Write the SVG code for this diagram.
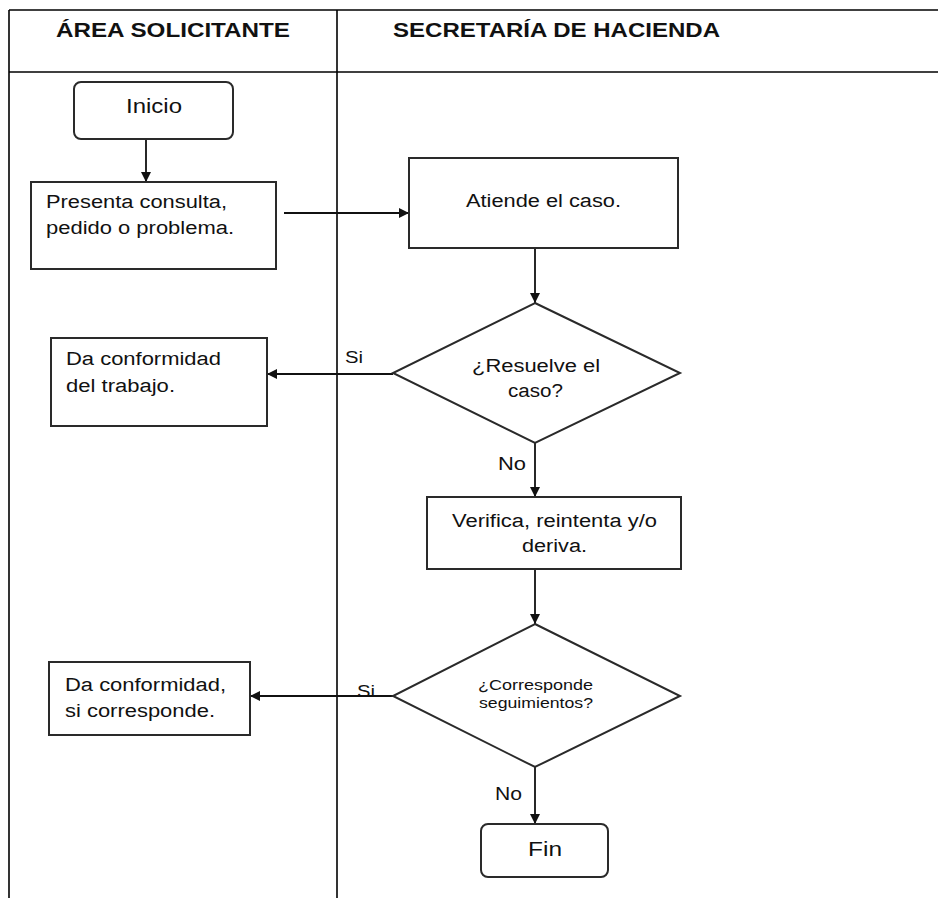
<svg xmlns="http://www.w3.org/2000/svg" width="938" height="898" viewBox="0 0 938 898">
  <style>
    .lane { stroke: #000; stroke-width: 1.6; fill: none; }
    .box { fill: #fff; stroke: #2a2a2a; stroke-width: 2; }
    .edge { stroke: #111; stroke-width: 1.8; fill: none; marker-end: url(#arrow); }
    text { font-family: "Liberation Sans", Arial, sans-serif; fill: #111; }
    .head { font-size: 21px; font-weight: bold; }
    .t18 { font-size: 18px; }
    .t21 { font-size: 21px; }
    .t14 { font-size: 14px; }
    .lbl { font-size: 16px; }
  </style>
  <defs>
    <marker id="arrow" viewBox="0 0 10 10" refX="10" refY="5" markerWidth="10" markerHeight="10" markerUnits="userSpaceOnUse" orient="auto">
      <path d="M0,0 L10,5 L0,10 z" fill="#111"/>
    </marker>
  </defs>

  <rect width="938" height="898" fill="#fff"/>

  <!-- swimlane table -->
  <g id="lanes">
    <line class="lane" x1="9" y1="10" x2="938" y2="10"/>
    <line class="lane" x1="9" y1="72" x2="938" y2="72"/>
    <line class="lane" x1="9" y1="10" x2="9" y2="898"/>
    <line class="lane" x1="337" y1="10" x2="337" y2="898"/>
    <text class="head" x="56" y="37" textLength="234" lengthAdjust="spacingAndGlyphs">ÁREA SOLICITANTE</text>
    <text class="head" x="393" y="37" textLength="327" lengthAdjust="spacingAndGlyphs">SECRETARÍA DE HACIENDA</text>
  </g>

  <!-- connectors -->
  <g id="connectors">
    <line class="edge" x1="146" y1="139" x2="146" y2="182"/>
    <line class="edge" x1="284" y1="213" x2="409" y2="213"/>
    <line class="edge" x1="535" y1="248" x2="535" y2="303"/>
    <line class="edge" x1="393" y1="374" x2="267" y2="374"/>
    <line class="edge" x1="535" y1="443" x2="535" y2="497"/>
    <line class="edge" x1="535" y1="569" x2="535" y2="624"/>
    <line class="edge" x1="393" y1="696" x2="250" y2="696"/>
    <line class="edge" x1="535" y1="767" x2="535" y2="824"/>
    <text class="lbl" x="345" y="363" textLength="18" lengthAdjust="spacingAndGlyphs">Si</text>
    <text class="t18" x="498" y="470" textLength="28" lengthAdjust="spacingAndGlyphs">No</text>
    <text class="lbl" x="357" y="697" textLength="18" lengthAdjust="spacingAndGlyphs">Si</text>
    <text class="t18" x="495" y="800" textLength="27" lengthAdjust="spacingAndGlyphs">No</text>
  </g>

  <g id="inicio">
    <rect class="box" x="74" y="82" width="159" height="57" rx="7"/>
    <text class="t21" x="126" y="113" textLength="56" lengthAdjust="spacingAndGlyphs">Inicio</text>
  </g>

  <g id="presenta">
    <rect class="box" x="31" y="182" width="245" height="87"/>
    <text class="t18" x="46" y="208" textLength="181" lengthAdjust="spacingAndGlyphs">Presenta consulta,</text>
    <text class="t18" x="46" y="234" textLength="188" lengthAdjust="spacingAndGlyphs">pedido o problema.</text>
  </g>

  <g id="atiende">
    <rect class="box" x="409" y="158" width="269" height="90"/>
    <text class="t18" x="466" y="207" textLength="155" lengthAdjust="spacingAndGlyphs">Atiende el caso.</text>
  </g>

  <g id="resuelve">
    <polygon class="box" points="535,303 680,373 535,443 393,373"/>
    <text class="t18" x="472" y="372" textLength="128" lengthAdjust="spacingAndGlyphs">¿Resuelve el</text>
    <text class="t18" x="508" y="397" textLength="55" lengthAdjust="spacingAndGlyphs">caso?</text>
  </g>

  <g id="conformidad-trabajo">
    <rect class="box" x="51" y="338" width="216" height="88"/>
    <text class="t18" x="66" y="365" textLength="155" lengthAdjust="spacingAndGlyphs">Da conformidad</text>
    <text class="t18" x="66" y="392" textLength="109" lengthAdjust="spacingAndGlyphs">del trabajo.</text>
  </g>

  <g id="verifica">
    <rect class="box" x="427" y="497" width="254" height="72"/>
    <text class="t18" x="452" y="527" textLength="205" lengthAdjust="spacingAndGlyphs">Verifica, reintenta y/o</text>
    <text class="t18" x="522" y="552" textLength="65" lengthAdjust="spacingAndGlyphs">deriva.</text>
  </g>

  <g id="seguimiento">
    <polygon class="box" points="535,624 680,696 535,767 393,696"/>
    <text class="t14" x="478" y="690" textLength="115" lengthAdjust="spacingAndGlyphs">¿Corresponde</text>
    <text class="t14" x="479" y="708" textLength="114" lengthAdjust="spacingAndGlyphs">seguimientos?</text>
  </g>

  <g id="conformidad-corresponde">
    <rect class="box" x="49" y="662" width="201" height="73"/>
    <text class="t18" x="65" y="691" textLength="161" lengthAdjust="spacingAndGlyphs">Da conformidad,</text>
    <text class="t18" x="65" y="717" textLength="150" lengthAdjust="spacingAndGlyphs">si corresponde.</text>
  </g>

  <g id="fin">
    <rect class="box" x="481" y="824" width="127" height="53" rx="7"/>
    <text class="t21" x="528" y="856" textLength="34" lengthAdjust="spacingAndGlyphs">Fin</text>
  </g>
</svg>
